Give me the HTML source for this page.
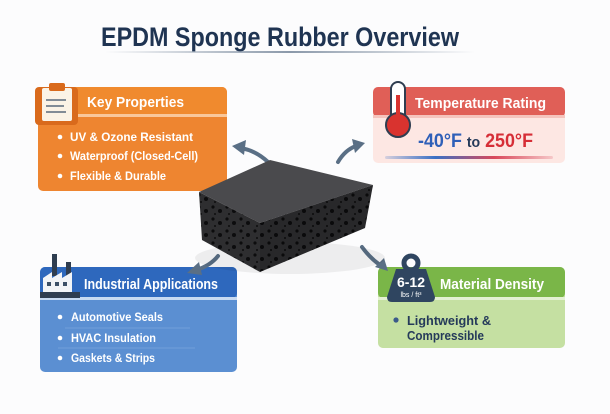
<!DOCTYPE html>
<html><head><meta charset="utf-8"><style>
html,body{margin:0;padding:0;background:#fff;}
svg{display:block;}
text{font-family:"Liberation Sans",sans-serif;font-weight:bold;}
</style></head><body>
<svg width="610" height="414" viewBox="0 0 610 414" xmlns="http://www.w3.org/2000/svg">
<defs>
<linearGradient id="bar" x1="0" x2="1"><stop offset="0" stop-color="#3a6fc4" stop-opacity="0.2"/><stop offset="0.3" stop-color="#3a6fc4"/><stop offset="0.65" stop-color="#d9475a"/><stop offset="1" stop-color="#d9475a" stop-opacity="0.2"/></linearGradient>
<linearGradient id="tl" x1="0" x2="1"><stop offset="0" stop-color="#5a6e86" stop-opacity="0"/><stop offset="0.5" stop-color="#5a6e86" stop-opacity="0.7"/><stop offset="1" stop-color="#5a6e86" stop-opacity="0"/></linearGradient>
<pattern id="holes" width="14" height="12" patternUnits="userSpaceOnUse"><rect width="14" height="12" fill="#2e2e30"/><circle cx="3" cy="3" r="1.6" fill="#0c0c0d"/><circle cx="10" cy="7" r="2" fill="#0c0c0d"/><circle cx="5" cy="10" r="1" fill="#0c0c0d"/></pattern>
</defs>
<rect width="610" height="414" fill="#fcfcfd"/>
<text x="101" y="46" font-size="27" fill="#1f3452" textLength="358" lengthAdjust="spacingAndGlyphs">EPDM Sponge Rubber Overview</text>
<rect x="105" y="51" width="370" height="2" fill="url(#tl)"/>

<!-- Orange box -->
<rect x="38" y="87" width="189" height="104" rx="5" fill="#ee8530"/>
<rect x="38" y="87" width="189" height="29" rx="5" fill="#f08a2e"/>
<rect x="38" y="114" width="189" height="3" fill="#f9c79a"/>
<text x="87" y="107" font-size="15" fill="#fff" textLength="97" lengthAdjust="spacingAndGlyphs">Key Properties</text>
<g font-size="11.5" fill="#fff"><circle cx="60" cy="137" r="2.3" fill="#fff"/><text x="70" y="141" textLength="123" lengthAdjust="spacingAndGlyphs">UV &amp; Ozone Resistant</text>
<circle cx="60" cy="156" r="2.3" fill="#fff"/><text x="70" y="160" textLength="128" lengthAdjust="spacingAndGlyphs">Waterproof (Closed-Cell)</text>
<circle cx="60" cy="176" r="2.3" fill="#fff"/><text x="70" y="180" textLength="96" lengthAdjust="spacingAndGlyphs">Flexible &amp; Durable</text></g>
<rect x="35" y="87" width="43" height="38" rx="4" fill="#d96a1c"/>
<rect x="42" y="88" width="30" height="33" rx="2" fill="#fbf3e6"/>
<rect x="49" y="83" width="16" height="8" rx="2" fill="#d96a1c"/>
<g stroke="#3b4f66" stroke-width="1.3"><line x1="46" y1="100" x2="66" y2="100"/><line x1="46" y1="106" x2="64" y2="106"/><line x1="46" y1="112" x2="66" y2="112"/></g>

<!-- Temperature -->
<rect x="373" y="87" width="192" height="76" rx="5" fill="#fde7e3"/>
<rect x="373" y="87" width="192" height="30" rx="5" fill="#e05f57"/>
<rect x="373" y="115" width="192" height="3" fill="#f5c4bd"/>
<text x="415" y="108" font-size="14.5" fill="#fff" textLength="131" lengthAdjust="spacingAndGlyphs">Temperature Rating</text>
<text x="418" y="147" font-size="19" fill="#2f5fb8" textLength="115" lengthAdjust="spacingAndGlyphs">-40°F <tspan fill="#253a5a" font-size="15">to</tspan> <tspan fill="#d62e37">250°F</tspan></text>
<rect x="385" y="156" width="168" height="3" rx="1.5" fill="url(#bar)"/>
<rect x="391" y="82" width="14" height="46" rx="7" fill="#fff" stroke="#2f3d50" stroke-width="2"/>
<circle cx="398" cy="125" r="12" fill="#d9332f" stroke="#2f3d50" stroke-width="2"/>
<rect x="396" y="95" width="4" height="30" fill="#d9332f"/>

<!-- Blue -->
<rect x="40" y="267" width="197" height="105" rx="5" fill="#5b8fd2"/>
<rect x="40" y="267" width="197" height="31" rx="5" fill="#2e68bd"/>
<rect x="40" y="297" width="197" height="3" fill="#c8daf2"/>
<text x="84" y="289" font-size="14.5" fill="#fff" textLength="134" lengthAdjust="spacingAndGlyphs">Industrial Applications</text>
<g font-size="11.5" fill="#fff"><circle cx="60" cy="317" r="2.3" fill="#fff"/><text x="71" y="321" textLength="92" lengthAdjust="spacingAndGlyphs">Automotive Seals</text>
<circle cx="60" cy="338" r="2.3" fill="#fff"/><text x="71" y="342" textLength="85" lengthAdjust="spacingAndGlyphs">HVAC Insulation</text>
<circle cx="60" cy="358" r="2.3" fill="#fff"/><text x="71" y="362" textLength="84" lengthAdjust="spacingAndGlyphs">Gaskets &amp; Strips</text></g>
<g stroke="#7aa4db" stroke-width="0.8"><line x1="65" y1="328" x2="190" y2="328"/><line x1="58" y1="348" x2="195" y2="348"/></g>
<g fill="#2f3d50"><rect x="52" y="254" width="5" height="22"/><rect x="66" y="262" width="5" height="14"/>
<path d="M43 294 L43 278 L52 272 L52 278 L62 272 L62 278 L72 272 L72 294 Z" fill="#f2f4f7"/>
<rect x="40" y="292" width="40" height="6"/></g>
<g fill="#3b4f66"><rect x="47" y="282" width="4" height="4"/><rect x="55" y="282" width="4" height="4"/><rect x="63" y="282" width="4" height="4"/></g>

<!-- Green -->
<rect x="378" y="267" width="187" height="81" rx="5" fill="#c5e0a2"/>
<rect x="378" y="267" width="187" height="31" rx="5" fill="#7ab648"/>
<rect x="378" y="297" width="187" height="3" fill="#e3f0d2"/>
<text x="440" y="289" font-size="14.5" fill="#fff" textLength="104" lengthAdjust="spacingAndGlyphs">Material Density</text>
<circle cx="396" cy="320" r="2.6" fill="#3b5a8a"/>
<text x="407" y="325" font-size="13" fill="#253a5a" textLength="84" lengthAdjust="spacingAndGlyphs">Lightweight &amp;</text>
<text x="407" y="340" font-size="13" fill="#253a5a" textLength="77" lengthAdjust="spacingAndGlyphs">Compressible</text>
<circle cx="411" cy="263" r="7" fill="none" stroke="#2f4560" stroke-width="5"/>
<path d="M396 269 L426 269 L435 297 Q435 302 430 302 L392 302 Q387 302 387 297 Z" fill="#2f4560"/>
<text x="411" y="287" text-anchor="middle" font-size="14" fill="#fff">6-12</text>
<text x="411" y="297" text-anchor="middle" font-size="7" fill="#fff" style="font-weight:normal">lbs / ft³</text>

<!-- Arrows -->
<g stroke="#5a6f85" stroke-width="4" fill="none" stroke-linecap="round">
<path d="M268 162 Q255 150 240 148"/><path d="M338 162 Q345 150 356 146"/>
<path d="M218 256 Q210 266 196 270"/><path d="M362 247 Q370 258 380 265"/></g>
<g fill="#5a6f85"><path d="M232 146 L246 140 L244 155 Z"/><path d="M365 143 L352 139 L355 153 Z"/><path d="M187 273 L199 262 L202 275 Z"/><path d="M388 271 L375 267 L384 258 Z"/></g>

<!-- Block -->
<ellipse cx="290" cy="258" rx="95" ry="16" fill="#000" opacity="0.06"/>
<polygon points="199,192 270,160 373,185 260,223" fill="#4a4a4d"/>
<polygon points="199,192 260,223 260,272 202,240" fill="url(#holes)"/>
<polygon points="260,223 373,185 365,228 260,272" fill="url(#holes)"/>
<polygon points="260,223 373,185 365,228 260,272" fill="#000" opacity="0.12"/>
</svg>
</body></html>
